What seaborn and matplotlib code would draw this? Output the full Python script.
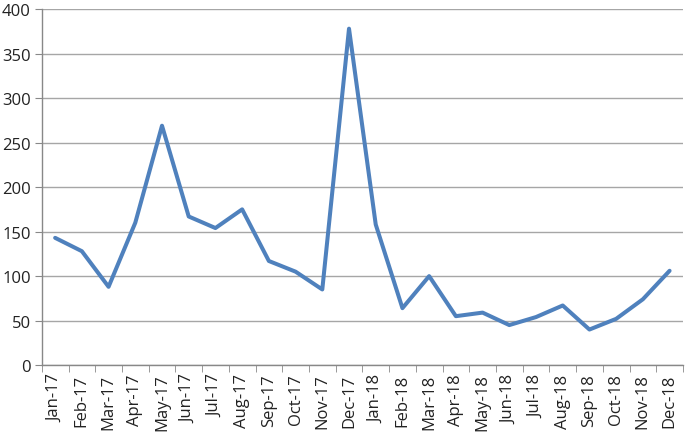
import numpy as np
import pandas as pd
import matplotlib
matplotlib.use("Agg")
import matplotlib.pyplot as plt
import seaborn as sns

months = ["Jan-17", "Feb-17", "Mar-17", "Apr-17", "May-17", "Jun-17",
          "Jul-17", "Aug-17", "Sep-17", "Oct-17", "Nov-17", "Dec-17",
          "Jan-18", "Feb-18", "Mar-18", "Apr-18", "May-18", "Jun-18",
          "Jul-18", "Aug-18", "Sep-18", "Oct-18", "Nov-18", "Dec-18"]
values = [143, 128, 88, 160, 269, 167, 154, 175, 117, 105, 85, 378,
          158, 64, 100, 55, 59, 45, 54, 67, 40, 52, 74, 106]
yticks = [0, 50, 100, 150, 200, 250, 300, 350, 400]

df = pd.DataFrame({"Month": months, "Count": values})

sns.set_style("white")
plt.rcParams['font.family'] = ['Open Sans', 'DejaVu Sans']

fig = plt.figure(figsize=(6.85, 4.39), dpi=100)
ax = fig.add_axes([0.061, 0.166, 0.936, 0.811])

sns.lineplot(data=df, x="Month", y="Count", color="#4F81BD", linewidth=2.9, ax=ax, sort=False)

ax.set_ylim(0, 400)
ax.set_xlim(-0.5, len(months) - 0.5)
ax.set_yticks(yticks)
ax.set_yticklabels([str(v) for v in yticks], fontsize=12, color="#222222")
ax.set_xticks(range(len(months)))
ax.set_xticklabels(months, rotation=90, fontsize=12, color="#222222")
ax.set_xticks(np.arange(-0.5, len(months), 1), minor=True)
ax.tick_params(axis="x", which="major", length=0, pad=6)
ax.tick_params(axis="x", which="minor", length=5, color="#888888", direction="out", bottom=True)
ax.tick_params(axis="y", length=5, color="#888888", direction="out", left=True, pad=3)

ax.grid(axis="y", color="#A6A6A6", linewidth=1)
ax.set_axisbelow(True)
for s in ["top", "right"]:
    ax.spines[s].set_visible(False)
for s in ["left", "bottom"]:
    ax.spines[s].set_color("#888888")
    ax.spines[s].set_linewidth(1)

ax.set_xlabel("")
ax.set_ylabel("")

fig.savefig("out.png", dpi=100)
